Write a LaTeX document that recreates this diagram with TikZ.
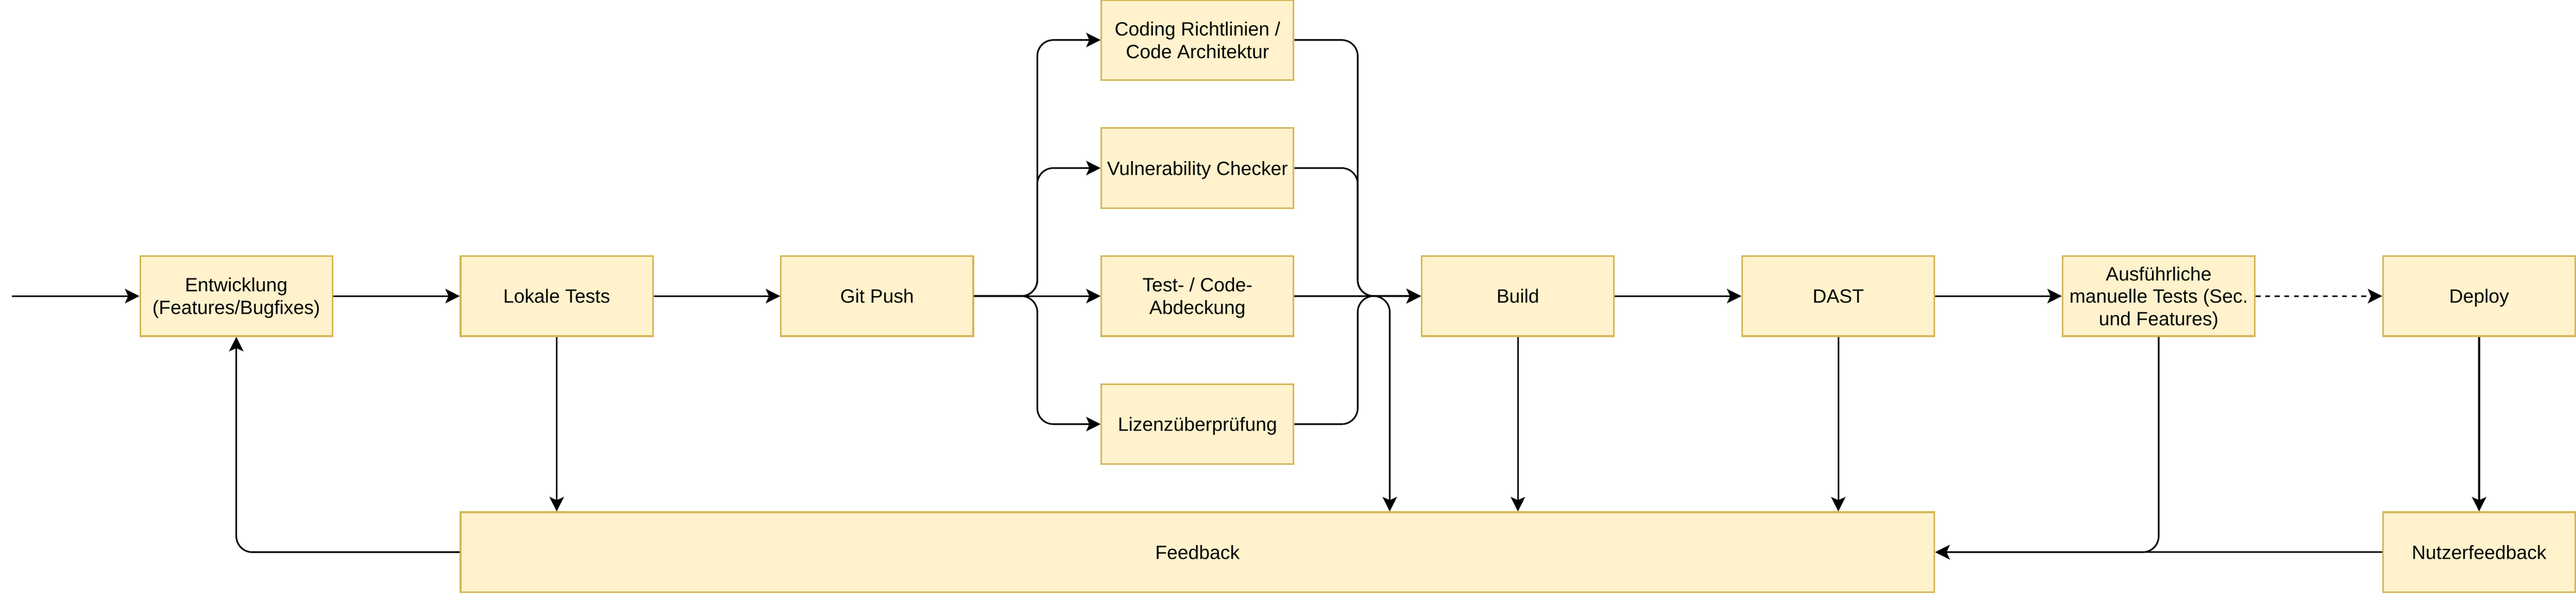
\documentclass[tikz,border=0pt]{standalone}
\usepackage{fontspec}
\setmainfont{Liberation Sans}
\usepackage{tikz}
\usetikzlibrary{arrows.meta, calc}

\definecolor{boxfill}{HTML}{FFF2CC}
\definecolor{boxline}{HTML}{D6B656}

\begin{document}
\begin{tikzpicture}[x=1pt, y=-1pt,
  font=\fontsize{12}{14}\selectfont,
  stepbox/.style={draw=boxline, fill=boxfill, line width=1pt, minimum width=120pt, minimum height=50pt, inner sep=0pt, text depth=0pt, align=center},
  flow/.style={line width=1pt, rounded corners=10pt, -{Stealth[length=9pt, width=9pt, inset=2pt]}}]
\useasboundingbox (0,0) rectangle (1608,371);

% main line
\node[stepbox] (entw) at (147.5,185) {Entwicklung\\(Features/Bugfixes)};
\node[stepbox] (lokal) at (347.5,185) {Lokale Tests};
\node[stepbox] (git) at (547.5,185) {Git Push};
\node[stepbox] (build) at (947.5,185) {Build};
\node[stepbox] (dast) at (1147.5,185) {DAST};
\node[stepbox] (manuell) at (1347.5,185) {Ausführliche\\manuelle Tests (Sec.\\und Features)};
\node[stepbox] (deploy) at (1547.5,185) {Deploy};

% checks after push
\node[stepbox] (coding) at (747.5,25) {Coding Richtlinien /\\Code Architektur};
\node[stepbox] (vuln) at (747.5,105) {Vulnerability Checker};
\node[stepbox] (test) at (747.5,185) {Test- / Code-\\Abdeckung};
\node[stepbox] (lizenz) at (747.5,265) {Lizenzüberprüfung};

% feedback row
\node[stepbox, minimum width=920pt] (feedback) at (747.5,345) {Feedback};
\node[stepbox] (nutzer) at (1547.5,345) {Nutzerfeedback};

\coordinate (start) at (7.5,185);
\coordinate (split) at (647.5,185);
\coordinate (merge) at (847.5,185);

\draw[flow] (start) -- (entw.west);
\draw[flow] (entw.east) -- (lokal.west);
\draw[flow] (lokal.east) -- (git.west);
\draw[flow] (git.east) -- (split) |- (coding.west);
\draw[flow] (git.east) -- (split) |- (vuln.west);
\draw[flow] (git.east) -- (test.west);
\draw[flow] (git.east) -- (split) |- (lizenz.west);
\draw[flow] (coding.east) -| (merge) -- (build.west);
\draw[flow] (vuln.east) -| (merge) -- (build.west);
\draw[flow] (test.east) -- (build.west);
\draw[flow] (lizenz.east) -| (merge) -- (build.west);
\draw[flow] (test.east) -| ([xshift=120pt]feedback.north);
\draw[flow] (build.east) -- (dast.west);
\draw[flow] (dast.east) -- (manuell.west);
\draw[flow, dash pattern=on 3pt off 3pt] (manuell.east) -- (deploy.west);

% back to feedback
\draw[flow] (lokal.south) -- (lokal.south |- feedback.north);
\draw[flow] (build.south) -- (build.south |- feedback.north);
\draw[flow] (dast.south) -- (dast.south |- feedback.north);
\draw[flow] (manuell.south) |- (feedback.east);
\draw[flow] (deploy.south) -- (nutzer.north);
\draw[flow] (nutzer.west) -- (feedback.east);
\draw[flow] (feedback.west) -| (entw.south);
\end{tikzpicture}
\end{document}
